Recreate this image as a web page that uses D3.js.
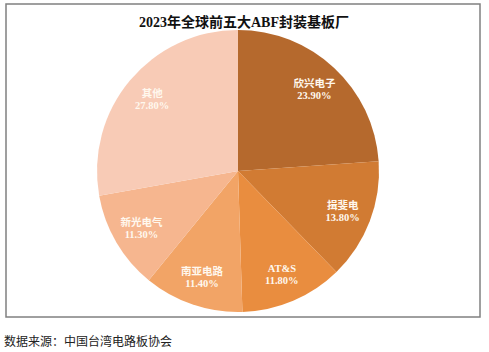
<!DOCTYPE html>
<html>
<head>
<meta charset="utf-8">
<script src="https://cdn.jsdelivr.net/npm/d3@7"></script>
<style>
  body { margin: 0; background: #fff; }
</style>
</head>
<body>
<div id="chart"></div>
<script>
// data
var names  = ["欣兴电子", "揖斐电", "AT&S", "南亚电路", "新光电气", "其他"];
var shares = [23.9, 13.8, 11.8, 11.4, 11.3, 27.8];
var colors = ["#b5692d", "#d17b33", "#e98d3f", "#f2a466", "#f6b68f", "#f8cbb6"];

const W = 489, H = 352;
const cx = 238, cy = 171, radius = 141;

const svg = d3.select("#chart")
  .append("svg")
  .attr("width", W)
  .attr("height", H);

// frame
svg.append("rect")
  .attr("x", 6).attr("y", 4)
  .attr("width", 474).attr("height", 313)
  .attr("fill", "none")
  .attr("stroke", "#808080")
  .attr("stroke-width", 1.5);

// title
svg.append("text")
  .attr("x", 244).attr("y", 27)
  .attr("text-anchor", "middle")
  .style("font-family", "'Liberation Serif', 'Noto Sans CJK SC', serif")
  .style("font-weight", "bold")
  .style("font-size", "14px")
  .style("fill", "#111")
  .text("2023年全球前五大ABF封装基板厂");

const g = svg.append("g")
  .attr("transform", "translate(" + cx + "," + cy + ")");

const color = d3.scaleOrdinal().domain(names).range(colors);

const pie = d3.pie().sort(null).value(function(d, i) { return shares[i]; });
const arc = d3.arc().innerRadius(0).outerRadius(radius);
const labelArc = d3.arc().innerRadius(112).outerRadius(112);

const arcs = g.selectAll(".arc")
  .data(pie(names))
  .enter()
  .append("g")
  .attr("class", "arc");

arcs.append("path")
  .attr("fill", function(d) { return color(d.data); })
  .attr("d", arc);

// labels: name + percentage
const lab = arcs.append("text")
  .attr("transform", function(d) { return "translate(" + labelArc.centroid(d) + ")"; })
  .attr("text-anchor", "middle")
  .style("font-family", "'Liberation Serif', 'Noto Sans CJK SC', serif")
  .style("font-weight", "bold")
  .style("font-size", "10.5px")
  .style("fill", "#fff8ee");

lab.append("tspan")
  .attr("x", 0).attr("y", -2)
  .text(function(d) { return d.data; });

lab.append("tspan")
  .attr("x", 0).attr("y", 10)
  .text(function(d, i) { return shares[i].toFixed(2) + "%"; });

// source note
svg.append("text")
  .attr("x", 4).attr("y", 346)
  .style("font-family", "'Noto Sans CJK SC', sans-serif")
  .style("font-size", "12px")
  .style("fill", "#222")
  .text("数据来源：中国台湾电路板协会");
</script>
</body>
</html>
